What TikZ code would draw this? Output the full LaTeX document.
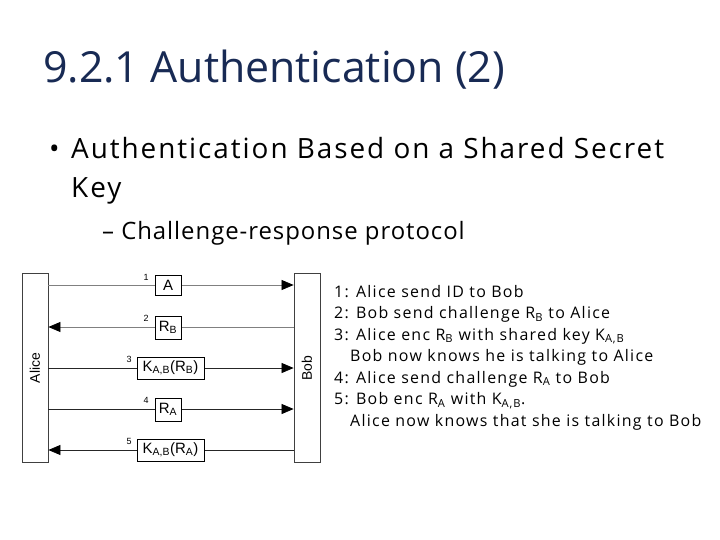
\documentclass[tikz,border=0pt]{standalone}
\usepackage{fontspec}
\setmainfont{Open Sans}
\newfontfamily\diag{Liberation Sans}
\newfontfamily\wideA[LetterSpace=7]{Open Sans}
\newfontfamily\wideB[LetterSpace=4]{Open Sans}
\newfontfamily\wideC[LetterSpace=8]{Open Sans}
\usetikzlibrary{arrows.meta}
\definecolor{titleblue}{RGB}{24,42,84}
\begin{document}
\begin{tikzpicture}[x=1bp,y=-1bp,
  bar/.style={draw=black!75, fill=white, minimum width=26bp, minimum height=189bp, inner sep=0, line width=0.8bp},
  msg/.style={draw=black, fill=white, font=\diag\fontsize{15}{15}\selectfont, inner sep=0, line width=0.7bp},
  num/.style={font=\diag\fontsize{9}{9}\selectfont, inner sep=0},
  arr/.style={-{Triangle[length=12bp,width=10bp,color=black]}, line width=0.7bp},
  txt/.style={anchor=base west, inner sep=0},
  side/.style={txt, font=\wideC\fontsize{16}{16}\selectfont}]
\useasboundingbox[fill=white] (0,0) rectangle (720,540);
% title and bullets
\node[txt, text=titleblue, font=\fontsize{43}{43}\selectfont] (title) at (43,83) {9.2.1 Authentication (2)};
\node[txt, font=\fontsize{28}{28}\selectfont] (b1) at (49,159) {•};
\node[txt, font=\wideA\fontsize{28}{28}\selectfont] (l1) at (71,159) {Authentication Based on a Shared Secret};
\node[txt, font=\wideA\fontsize{28}{28}\selectfont] (l2) at (71,198) {Key};
\node[txt, font=\wideB\fontsize{24}{24}\selectfont] (l3) at (102,240) {– Challenge-response protocol};
% diagram
\node[bar] (Alice) at (35,368) {\rotatebox{90}{\diag\fontsize{14}{14}\selectfont Alice}};
\node[bar] (Bob) at (307,368) {\rotatebox{90}{\diag\fontsize{14}{14}\selectfont Bob}};
\coordinate (y1) at (0,285);
\coordinate (y2) at (0,327);
\coordinate (y3) at (0,368);
\coordinate (y4) at (0,409);
\coordinate (y5) at (0,450);
\draw[arr, black!50] (Alice.east |- y1) -- (Bob.west |- y1);
\draw[arr, black!50] (Bob.west |- y2) -- (Alice.east |- y2);
\draw[arr, black!85] (Alice.east |- y3) -- (Bob.west |- y3);
\draw[arr, black!85] (Alice.east |- y4) -- (Bob.west |- y4);
\draw[arr, black!85] (Bob.west |- y5) -- (Alice.east |- y5);
\node[msg, minimum width=26bp, minimum height=20bp] (m1) at (168,285) {A};
\node[msg, minimum width=26bp, minimum height=23bp] (m2) at (168,327.5) {R\textsubscript{B}};
\node[msg, minimum width=67bp, minimum height=22bp] (m3) at (170.5,368) {K\textsubscript{A,B}(R\textsubscript{B})};
\node[msg, minimum width=26bp, minimum height=23bp] (m4) at (168,409.5) {R\textsubscript{A}};
\node[msg, minimum width=67bp, minimum height=22bp] (m5) at (170.5,450) {K\textsubscript{A,B}(R\textsubscript{A})};
\node[num] (n1) at (146,277) {1};
\node[num] (n2) at (146,318) {2};
\node[num] (n3) at (129,359) {3};
\node[num] (n4) at (146,400) {4};
\node[num] (n5) at (129,441) {5};
% explanation
\node[side] (s1) at (334,297) {1: Alice send ID to Bob};
\node[side] (s2) at (334,318.5) {2: Bob send challenge R\textsubscript{B} to Alice};
\node[side] (s3) at (334,340) {3: Alice enc R\textsubscript{B} with shared key K\textsubscript{A,B}};
\node[side] (s4) at (350,361.5) {Bob now knows he is talking to Alice};
\node[side] (s5) at (334,383) {4: Alice send challenge R\textsubscript{A} to Bob};
\node[side] (s6) at (334,404.5) {5: Bob enc R\textsubscript{A} with K\textsubscript{A,B}.};
\node[side] (s7) at (350,426) {Alice now knows that she is talking to Bob};
\end{tikzpicture}
\end{document}
